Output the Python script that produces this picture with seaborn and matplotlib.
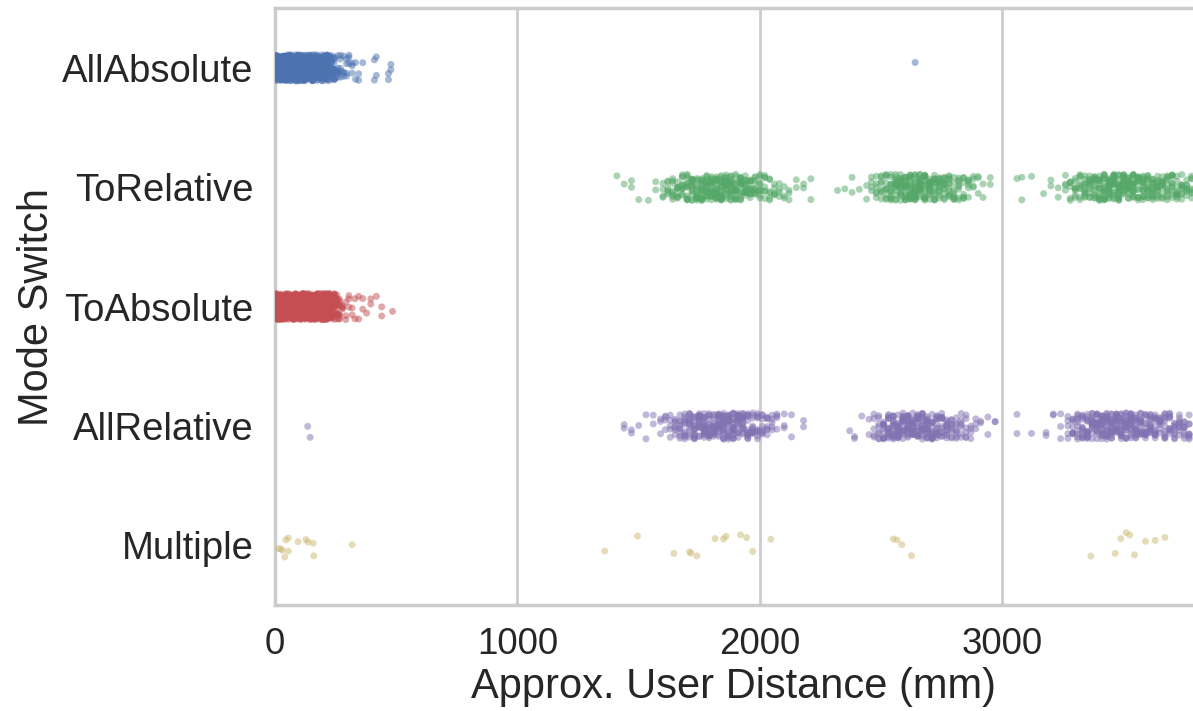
import numpy as np
import pandas as pd
import matplotlib
matplotlib.use("Agg")
import matplotlib.pyplot as plt
import seaborn as sns

modes = ["AllAbsolute", "ToRelative", "ToAbsolute", "AllRelative", "Multiple"]
colors = ["#4C72B0", "#55A868", "#C44E52", "#8172B2", "#CCB974"]

# AllAbsolute distances (mm) and how many samples at each
allabs_x = [5, 15, 25, 35, 45, 55, 65, 75, 85, 95, 105, 115, 125, 135, 145, 155, 165, 175, 185,
            195, 205, 215, 225, 235, 245, 258, 270, 282, 295, 305, 318, 332, 345, 362, 410,
            418, 468, 478, 2640]
allabs_n = [36, 40, 38, 38, 36, 37, 36, 37, 35, 34, 35, 33, 34, 32, 32, 30, 30, 28, 27,
            26, 25, 23, 20, 16, 12, 7, 5, 4, 4, 3, 3, 2, 2, 1, 2, 2, 2, 2, 1]

# ToRelative
torel_x = [1410, 1440, 1470, 1500, 1540, 1570, 1600, 1620, 1640, 1660, 1680, 1700, 1720, 1740,
           1760, 1780, 1800, 1820, 1840, 1860, 1880, 1900, 1920, 1940, 1960, 1980, 2000, 2020,
           2040, 2060, 2080, 2100, 2120, 2150, 2180, 2210,
           2320, 2350, 2380, 2410, 2440, 2460, 2480, 2500, 2520, 2540, 2560, 2580, 2600, 2620,
           2640, 2660, 2680, 2700, 2720, 2740, 2760, 2780, 2800, 2820, 2840, 2860, 2880, 2900,
           2920, 2950,
           3060, 3080, 3120, 3170, 3200, 3230, 3260, 3280, 3300, 3320, 3340, 3360, 3380, 3400,
           3420, 3440, 3460, 3480, 3500, 3520, 3540, 3560, 3580, 3600, 3620, 3640, 3660, 3680,
           3700, 3720, 3740, 3760, 3780]
torel_n = [1, 1, 2, 1, 1, 2, 4, 6, 8, 9, 11, 13, 14, 16,
           17, 18, 19, 20, 20, 19, 18, 17, 16, 14, 12, 10, 9, 7,
           6, 5, 4, 3, 3, 2, 2, 2,
           1, 1, 2, 1, 2, 4, 6, 8, 10, 12, 15, 17, 18, 19,
           19, 18, 17, 16, 14, 13, 12, 11, 9, 8, 7, 6, 4, 3,
           2, 2,
           1, 2, 1, 1, 2, 2, 4, 6, 8, 9, 11, 12, 14, 15,
           17, 18, 18, 19, 19, 18, 17, 16, 15, 14, 14, 13, 12, 11,
           11, 10, 9, 8, 8]

# ToAbsolute
toabs_x = [5, 15, 25, 35, 45, 55, 65, 75, 85, 95, 105, 115, 125, 135, 145, 155, 165, 175, 185,
           195, 205, 215, 225, 235, 245, 255, 265, 278, 292, 305, 318, 330, 345, 362, 378,
           395, 418, 440, 485]
toabs_n = [38, 40, 39, 40, 38, 38, 37, 38, 36, 36, 36, 34, 35, 33, 33, 31, 31, 30, 28,
           27, 26, 25, 23, 20, 17, 13, 9, 4, 3, 3, 2, 2, 2, 2, 1,
           2, 1, 2, 1]

# AllRelative
allrel_x = [135, 145,
            1440, 1470, 1500, 1530, 1560, 1590, 1610, 1630, 1650, 1670, 1690, 1710, 1730, 1750,
            1770, 1790, 1810, 1830, 1850, 1870, 1890, 1910, 1930, 1950, 1970, 1990, 2010, 2030,
            2050, 2070, 2100, 2130, 2180,
            2370, 2390, 2420, 2450, 2470, 2490, 2510, 2530, 2550, 2570, 2590, 2610, 2630, 2650,
            2670, 2690, 2710, 2730, 2750, 2770, 2790, 2810, 2830, 2850, 2870, 2890, 2910, 2940,
            2970,
            3060, 3120, 3180, 3210, 3240, 3270, 3290, 3310, 3330, 3350, 3370, 3390, 3410, 3430,
            3450, 3470, 3490, 3510, 3530, 3550, 3570, 3590, 3610, 3630, 3650, 3670, 3690, 3710,
            3730, 3750, 3770]
allrel_n = [1, 1,
            2, 2, 1, 2, 2, 3, 4, 5, 7, 9, 11, 13, 15, 16,
            18, 19, 19, 20, 20, 19, 19, 18, 16, 14, 12, 10, 8, 7,
            5, 4, 3, 2, 2,
            1, 2, 1, 2, 5, 8, 11, 14, 16, 18, 19, 19, 19, 18,
            17, 17, 16, 14, 12, 11, 9, 8, 7, 6, 4, 3, 2, 2,
            2,
            2, 1, 2, 2, 3, 5, 8, 10, 12, 14, 16, 17, 18, 19,
            19, 19, 18, 17, 17, 16, 15, 14, 14, 13, 12, 11, 10, 9,
            9, 8, 8]

# Multiple
multi_x = [15, 24, 30, 40, 45, 55, 55, 95, 128, 136, 157, 160, 318,
           1360, 1495, 1645, 1710, 1715, 1740, 1815, 1850, 1860, 1920, 1945, 1970, 2045,
           2550, 2565, 2585, 2625,
           3365, 3465, 3488, 3510, 3525, 3545, 3590, 3630, 3670]
multi_n = [1] * len(multi_x)

tables = {
    "AllAbsolute": (allabs_x, allabs_n),
    "ToRelative": (torel_x, torel_n),
    "ToAbsolute": (toabs_x, toabs_n),
    "AllRelative": (allrel_x, allrel_n),
    "Multiple": (multi_x, multi_n),
}
frames = []
for m in modes:
    xs, ns = tables[m]
    vals = np.repeat(np.asarray(xs, dtype=float), ns)
    frames.append(pd.DataFrame({"dist": vals, "mode": m}))
df = pd.concat(frames, ignore_index=True)

sns.set_theme(context="poster", style="whitegrid", font_scale=1.25)
plt.rcParams["font.family"] = ["Liberation Sans", "DejaVu Sans"]

np.random.seed(3)
fig = plt.figure(figsize=(11.93, 7.11), dpi=100)
ax = fig.add_axes([0.2305, 0.149, 0.7695, 0.8395])
sns.stripplot(data=df, x="dist", y="mode", hue="mode", order=modes, hue_order=modes,
              palette=colors, jitter=0.11, size=5.0, alpha=0.5, linewidth=0,
              legend=False, ax=ax)
ax.set_xlim(0, 3786)
ax.set_xticks([0, 1000, 2000, 3000])
ax.set_xlabel("Approx. User Distance (mm)")
ax.set_ylabel("Mode Switch")
ax.tick_params(axis="x", labelsize=26.5)
ax.tick_params(axis="y", labelsize=27.5)
ax.spines["right"].set_visible(False)
fig.savefig("out.png", dpi=100)
